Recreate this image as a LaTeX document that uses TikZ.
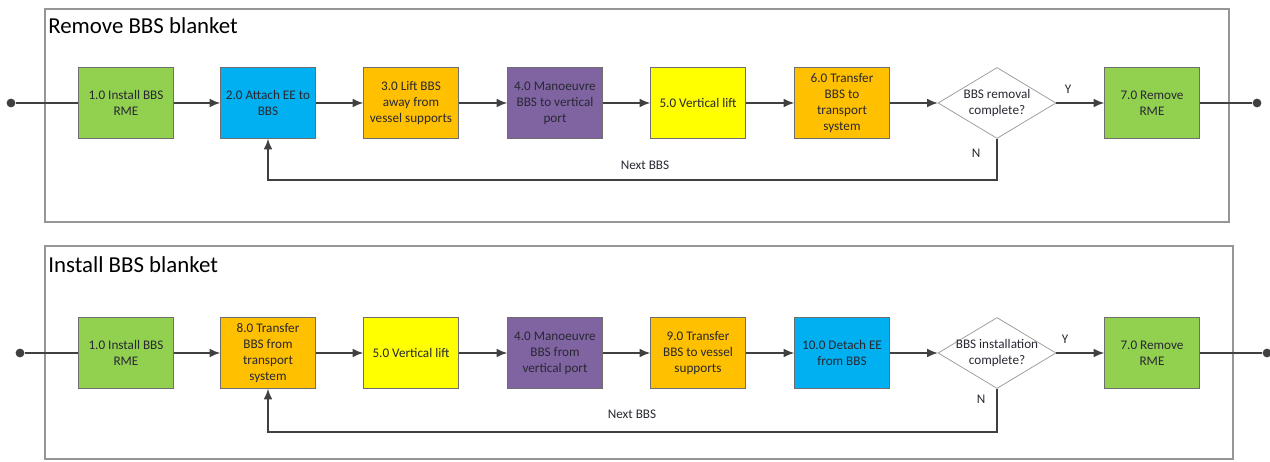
\documentclass[tikz,border=0pt]{standalone}
\usepackage{fontspec}
\setmainfont{Carlito}
\usepackage{tikz}
\usetikzlibrary{shapes.geometric,arrows.meta,positioning,calc}
\definecolor{stepgreen}{RGB}{146,208,80}
\definecolor{stepblue}{RGB}{0,176,240}
\definecolor{steporange}{RGB}{255,192,0}
\definecolor{steppurple}{RGB}{128,100,162}
\definecolor{stepyellow}{RGB}{255,255,0}
\definecolor{linegray}{RGB}{64,64,64}
\definecolor{framegray}{RGB}{150,150,150}
\definecolor{boxgray}{RGB}{110,110,110}
\definecolor{textgray}{RGB}{40,40,50}

\begin{document}
\begin{tikzpicture}[x=0.02cm, y=-0.02cm,
    stepbox/.style={rectangle, draw=boxgray, minimum width=1.9cm, minimum height=1.42cm,
                    inner sep=1pt, align=center, text=textgray, font=\fontsize{7.5}{9.1}\selectfont},
    decision/.style={diamond, draw=framegray, fill=white, aspect=1.66, inner sep=0pt,
                     minimum width=2.36cm, minimum height=1.42cm,
                     label={[align=center, text=textgray, font=\fontsize{7.5}{9.1}\selectfont]center:#1}},
    frame/.style={draw=framegray, thick},
    title/.style={anchor=west, inner sep=0pt, font=\fontsize{13}{15}\selectfont},
    small/.style={inner sep=0pt, text=textgray, font=\fontsize{7.5}{9}\selectfont},
    dot/.style={circle, fill=linegray, inner sep=0pt, minimum size=5pt},
    flow/.style={draw=linegray, thick, -{Latex[length=6pt, width=5pt]}},
    link/.style={draw=linegray, thick}
]
\useasboundingbox (0,0) rectangle (1270,462);

% Remove frame
\draw[frame] (45,9) rectangle (1229,222);
\node[title] (t1) at (48,26) {Remove BBS blanket};

% Remove steps
\node[dot] (s1) at (11,103) {};
\node[stepbox, fill=stepgreen] (a1) at (126,103) {1.0 Install BBS\\RME};
\node[stepbox, fill=stepblue] (a2) at (268,103) {2.0 Attach EE to\\BBS};
\node[stepbox, fill=steporange] (a3) at (411,103) {3.0 Lift BBS\\away from\\vessel supports};
\node[stepbox, fill=steppurple] (a4) at (555,103) {4.0 Manoeuvre\\BBS to vertical\\port};
\node[stepbox, fill=stepyellow] (a5) at (698,103) {5.0 Vertical lift};
\node[stepbox, fill=steporange] (a6) at (842,103) {6.0 Transfer\\BBS to\\transport\\system};
\node[decision={BBS removal\\complete?}] (ad) at (997,103) {};
\node[stepbox, fill=stepgreen] (a7) at (1152,103) {7.0 Remove\\RME};
\node[dot] (e1) at (1257,103) {};

% Remove connections
\draw[link] (s1) -- (a1);
\draw[flow] (a1) -- (a2);
\draw[flow] (a2) -- (a3);
\draw[flow] (a3) -- (a4);
\draw[flow] (a4) -- (a5);
\draw[flow] (a5) -- (a6);
\draw[flow] (a6) -- (ad);
\draw[flow] (ad) -- (a7);
\draw[link] (a7) -- (e1);
\coordinate (ac) at (997,180);
\draw[flow] (ad.south) -- (ac) -| (a2.south);

% Remove labels
\node[small] (ay) at (1068,89) {Y};
\node[small] (an) at (976,153) {N};
\node[small] (anext) at (645,165) {Next BBS};

% Install frame
\draw[frame] (45,246) rectangle (1233,459);
\node[title] (t2) at (48,265) {Install BBS blanket};

% Install steps
\node[dot] (s2) at (20,353) {};
\node[stepbox, fill=stepgreen] (b1) at (126,353) {1.0 Install BBS\\RME};
\node[stepbox, fill=steporange] (b2) at (268,353) {8.0 Transfer\\BBS from\\transport\\system};
\node[stepbox, fill=stepyellow] (b3) at (411,353) {5.0 Vertical lift};
\node[stepbox, fill=steppurple] (b4) at (555,353) {4.0 Manoeuvre\\BBS from\\vertical port};
\node[stepbox, fill=steporange] (b5) at (698,353) {9.0 Transfer\\BBS to vessel\\supports};
\node[stepbox, fill=stepblue] (b6) at (842,353) {10.0 Detach EE\\from BBS};
\node[decision={BBS installation\\complete?}] (bd) at (997,353) {};
\node[stepbox, fill=stepgreen] (b7) at (1152,353) {7.0 Remove\\RME};
\node[dot] (e2) at (1267,353) {};

% Install connections
\draw[link] (s2) -- (b1);
\draw[flow] (b1) -- (b2);
\draw[flow] (b2) -- (b3);
\draw[flow] (b3) -- (b4);
\draw[flow] (b4) -- (b5);
\draw[flow] (b5) -- (b6);
\draw[flow] (b6) -- (bd);
\draw[flow] (bd) -- (b7);
\draw[link] (b7) -- (e2);
\coordinate (bc) at (997,432);
\draw[flow] (bd.south) -- (bc) -| (b2.south);

% Install labels
\node[small] (by) at (1065,339) {Y};
\node[small] (bn) at (981,399) {N};
\node[small] (bnext) at (632,414) {Next BBS};

\end{tikzpicture}
\end{document}
